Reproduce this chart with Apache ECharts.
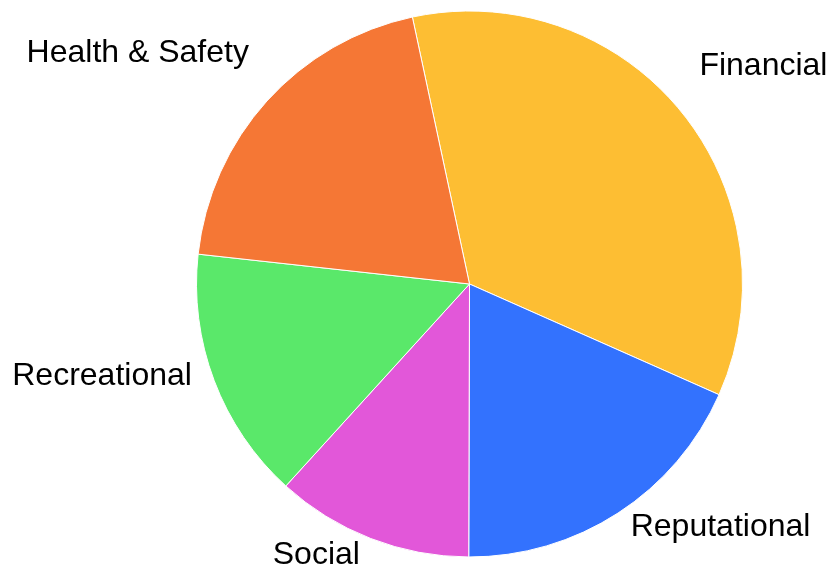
<!DOCTYPE html>
<html>
<head>
<meta charset="utf-8">
<script src="https://cdn.jsdelivr.net/npm/echarts@6/dist/echarts.min.js"></script>
<style>
html,body{margin:0;padding:0;background:#fff;}
#chart{width:832px;height:569px;}
</style>
</head>
<body>
<div id="chart"></div>
<script>
// Data
var categories = ['Financial', 'Reputational', 'Social', 'Recreational', 'Health & Safety'];
var values = [35, 18.4, 11.7, 15, 19.9];

// Styles
var colors = ['#FDBE33', '#3372FE', '#E257D9', '#5AE86A', '#F57735'];
var labelDx = [-3, -2, -1, 3, 2];
var labelDy = [-29, -9, -8, -14, -30];

var chart = echarts.init(document.getElementById('chart'), null, {renderer: 'canvas'});
var option = {
  backgroundColor: '#ffffff',
  animation: false,
  series: [{
    type: 'pie',
    center: [469.5, 284],
    radius: 273,
    startAngle: 102.08,
    clockwise: true,
    avoidLabelOverlap: false,
    itemStyle: { borderColor: '#ffffff', borderWidth: 1 },
    label: {
      show: true,
      position: 'outside',
      color: '#000000',
      fontSize: 32,
      fontFamily: 'Liberation Sans, Arial, sans-serif',
      distanceToLabelLine: 0,
      bleedMargin: 0
    },
    labelLine: { show: false, length: 27, length2: 0 },
    labelLayout: function (p) { return { dx: labelDx[p.dataIndex], dy: labelDy[p.dataIndex] }; },
    emphasis: { disabled: true },
    data: categories.map(function (c, i) {
      return { name: c, value: values[i], itemStyle: { color: colors[i] } };
    })
  }]
};
chart.setOption(option);
</script>
</body>
</html>
